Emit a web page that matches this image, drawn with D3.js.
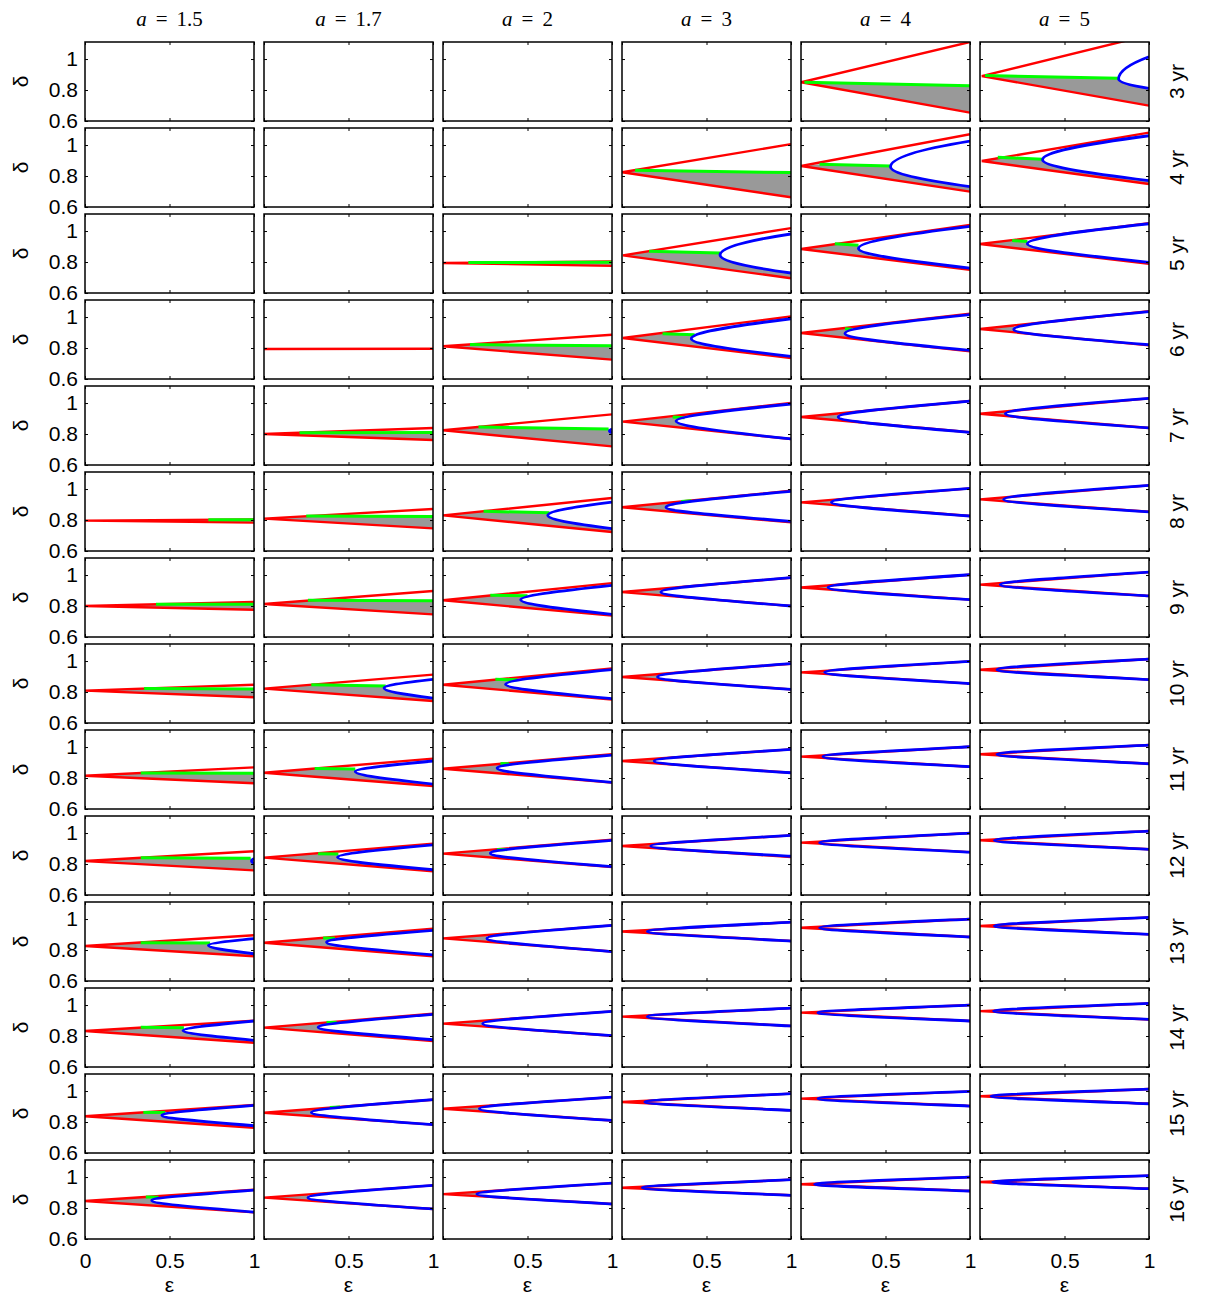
<!DOCTYPE html>
<html lang="en">
<head>
  <meta charset="UTF-8">
  <title>Bifurcation regions</title>
  <script src="https://d3js.org/d3.v7.min.js"></script>
  <style>
    body { margin: 0; background: #fff; }
  </style>
</head>
<body>
<div id="chart"></div>
<script>
  // column / row labels
  var aValues = ["1.5", "1.7", "2", "3", "4", "5"];
  var years = [3, 4, 5, 6, 7, 8, 9, 10, 11, 12, 13, 14, 15, 16];
  var yTicks = [0.6, 0.8, 1];
  var xTicks = [0, 0.5, 1];

  // cusp point [eps, delta] of the two red boundaries (null = empty panel)
  var cusp = [
    [null, null, null, null, [0, 0.85], [0.01, 0.89]],
    [null, null, null, [0, 0.824], [0, 0.865], [0.01, 0.897]],
    [null, null, [0, 0.794], [0.005, 0.843], [0, 0.884], [0, 0.916]],
    [null, [0, 0.794], [0, 0.811], [0.005, 0.865], [0, 0.897], [0, 0.923]],
    [null, [0, 0.8], [0, 0.824], [0.005, 0.88], [0, 0.91], [0, 0.931]],
    [[0, 0.796], [0, 0.809], [0, 0.83], [0, 0.882], [0, 0.914], [0, 0.933]],
    [[0, 0.8], [0, 0.813], [0, 0.837], [0, 0.89], [0, 0.92], [0, 0.938]],
    [[0, 0.809], [0, 0.822], [0, 0.847], [0, 0.897], [0, 0.927], [0, 0.944]],
    [[0, 0.815], [0, 0.834], [0, 0.86], [0, 0.91], [0, 0.938], [0, 0.953]],
    [[0, 0.819], [0, 0.841], [0, 0.867], [0, 0.916], [0, 0.938], [0, 0.953]],
    [[0, 0.826], [0, 0.847], [0, 0.875], [0, 0.92], [0, 0.944], [0, 0.955]],
    [[0, 0.832], [0, 0.854], [0, 0.88], [0, 0.925], [0, 0.951], [0, 0.961]],
    [[0, 0.837], [0, 0.86], [0, 0.886], [0, 0.929], [0, 0.951], [0, 0.966]],
    [[0, 0.845], [0, 0.867], [0, 0.89], [0, 0.931], [0, 0.953], [0, 0.968]]
  ];

  // red boundaries at eps = 1: [upper, lower]
  var redEnd = [
    [null, null, null, null, [1.11, 0.654], [1.155, 0.699]],
    [null, null, null, [1.006, 0.663], [1.07, 0.699], [1.08, 0.748]],
    [null, null, [0.804, 0.775], [1.019, 0.695], [1.04, 0.75], [1.05, 0.789]],
    [null, [0.795, 0.793], [0.886, 0.725], [1.004, 0.735], [1.021, 0.778], [1.037, 0.817]],
    [null, [0.839, 0.761], [0.927, 0.72], [1.0, 0.768], [1.013, 0.811], [1.03, 0.839]],
    [[0.804, 0.783], [0.871, 0.746], [0.942, 0.723], [0.989, 0.785], [1.004, 0.826], [1.024, 0.853]],
    [[0.826, 0.776], [0.897, 0.746], [0.948, 0.738], [0.983, 0.8], [1.002, 0.841], [1.019, 0.865]],
    [[0.847, 0.766], [0.912, 0.742], [0.953, 0.751], [0.983, 0.817], [0.998, 0.854], [1.013, 0.88]],
    [[0.869, 0.766], [0.925, 0.748], [0.953, 0.77], [0.985, 0.834], [1.002, 0.873], [1.013, 0.892]],
    [[0.882, 0.759], [0.931, 0.753], [0.957, 0.781], [0.985, 0.845], [1.0, 0.877], [1.013, 0.895]],
    [[0.895, 0.76], [0.938, 0.76], [0.959, 0.79], [0.98, 0.858], [1.0, 0.884], [1.011, 0.901]],
    [[0.899, 0.757], [0.944, 0.768], [0.959, 0.802], [0.98, 0.865], [1.0, 0.897], [1.011, 0.907]],
    [[0.91, 0.763], [0.944, 0.783], [0.961, 0.81], [0.983, 0.875], [0.998, 0.903], [1.013, 0.918]],
    [[0.918, 0.772], [0.946, 0.794], [0.961, 0.826], [0.983, 0.882], [1.0, 0.91], [1.009, 0.925]]
  ];

  // green segment [eps0, delta0, eps1, delta1]
  var green = [
    [null, null, null, null, [0.02, 0.85, 1, 0.828], [0.03, 0.893, 0.82, 0.876]],
    [null, null, null, [0.077, 0.838, 1, 0.822], [0.11, 0.876, 0.53, 0.864], [0.105, 0.921, 0.37, 0.908]],
    [null, null, [0.15, 0.797, 1, 0.799], [0.16, 0.869, 0.58, 0.858], [0.2, 0.918, 0.34, 0.908], [0.19, 0.939, 0.28, 0.932]],
    [null, null, [0.16, 0.822, 1, 0.815], [0.24, 0.892, 0.43, 0.886], [0.26, 0.925, 0.3, 0.922], null],
    [null, [0.21, 0.808, 1, 0.81], [0.21, 0.845, 0.98, 0.832], [0.3, 0.91, 0.37, 0.905], null, null],
    [[0.73, 0.802, 1, 0.802], [0.25, 0.826, 1, 0.822], [0.24, 0.856, 0.63, 0.847], [0.35, 0.92, 0.41, 0.925], null, null],
    [[0.42, 0.811, 1, 0.811], [0.26, 0.837, 1, 0.834], [0.28, 0.869, 0.5, 0.867], null, null, null],
    [[0.35, 0.822, 1, 0.819], [0.28, 0.847, 0.72, 0.839], [0.31, 0.882, 0.44, 0.879], null, null, null],
    [[0.33, 0.832, 1, 0.83], [0.3, 0.862, 0.54, 0.858], [0.34, 0.893, 0.41, 0.892], null, null, null],
    [[0.33, 0.84, 0.98, 0.838], [0.32, 0.867, 0.44, 0.865], [0.32, 0.893, 0.38, 0.893], null, null, null],
    [[0.33, 0.847, 0.74, 0.845], [0.35, 0.877, 0.42, 0.876], null, null, null, null],
    [[0.33, 0.856, 0.585, 0.853], [0.37, 0.888, 0.43, 0.888], null, null, null, null],
    [[0.345, 0.862, 0.475, 0.862], [0.39, 0.893, 0.45, 0.897], null, null, null, null],
    [[0.36, 0.871, 0.435, 0.87], null, null, null, null, null]
  ];

  // blue curve: [vertex eps, vertex delta, upper delta at eps=1, lower delta at eps=1]
  var blue = [
    [null, null, null, null, null, [0.82, 0.871, 1.015, 0.811]],
    [null, null, null, null, [0.53, 0.86, 1.026, 0.731], [0.37, 0.905, 1.06, 0.77]],
    [null, null, null, [0.58, 0.845, 0.981, 0.729], [0.34, 0.888, 1.03, 0.761], [0.28, 0.918, 1.047, 0.798]],
    [null, null, null, [0.41, 0.86, 0.989, 0.746], [0.26, 0.894, 1.015, 0.785], [0.2, 0.92, 1.035, 0.821]],
    [null, null, [0.985, 0.82, 0.832, 0.808], [0.32, 0.884, 0.994, 0.768], [0.22, 0.91, 1.013, 0.811], [0.15, 0.931, 1.03, 0.839]],
    [null, null, [0.62, 0.83, 0.916, 0.744], [0.26, 0.882, 0.985, 0.791], [0.18, 0.914, 1.004, 0.826], [0.14, 0.933, 1.024, 0.853]],
    [null, null, [0.46, 0.84, 0.933, 0.746], [0.23, 0.89, 0.983, 0.8], [0.16, 0.92, 1.002, 0.841], [0.12, 0.938, 1.019, 0.865]],
    [null, [0.71, 0.826, 0.882, 0.761], [0.37, 0.85, 0.944, 0.757], [0.21, 0.897, 0.983, 0.817], [0.14, 0.927, 0.998, 0.854], [0.1, 0.944, 1.013, 0.88]],
    [null, [0.54, 0.842, 0.91, 0.761], [0.32, 0.864, 0.948, 0.772], [0.19, 0.91, 0.985, 0.834], [0.13, 0.938, 1.002, 0.873], [0.1, 0.953, 1.013, 0.892]],
    [[0.985, 0.82, 0.835, 0.805], [0.435, 0.843, 0.923, 0.763], [0.28, 0.87, 0.953, 0.783], [0.17, 0.916, 0.985, 0.85], [0.11, 0.938, 1.0, 0.877], [0.085, 0.953, 1.013, 0.895]],
    [[0.73, 0.83, 0.873, 0.776], [0.37, 0.85, 0.927, 0.768], [0.26, 0.875, 0.959, 0.79], [0.15, 0.92, 0.98, 0.858], [0.11, 0.944, 1.0, 0.884], [0.085, 0.955, 1.011, 0.901]],
    [[0.58, 0.835, 0.897, 0.772], [0.32, 0.856, 0.94, 0.776], [0.235, 0.88, 0.959, 0.802], [0.15, 0.925, 0.98, 0.865], [0.1, 0.951, 1.0, 0.897], [0.08, 0.961, 1.011, 0.907]],
    [[0.455, 0.843, 0.908, 0.776], [0.28, 0.862, 0.944, 0.783], [0.215, 0.886, 0.961, 0.81], [0.135, 0.929, 0.983, 0.875], [0.1, 0.951, 0.998, 0.903], [0.065, 0.966, 1.013, 0.918]],
    [[0.395, 0.849, 0.916, 0.774], [0.26, 0.867, 0.946, 0.794], [0.2, 0.89, 0.961, 0.826], [0.12, 0.931, 0.983, 0.882], [0.08, 0.953, 1.0, 0.91], [0.075, 0.968, 1.009, 0.925]]
  ];

  // layout
  var W = 1206, H = 1297;
  var left0 = 85, colStep = 179, pw = 169;
  var top0 = 42, rowStep = 86, ph = 79;
  var sans = "'Liberation Sans', Arial, Helvetica, sans-serif";
  var serif = "'Liberation Serif', 'DejaVu Serif', serif";

  var svg = d3.select("#chart")
    .append("svg")
    .attr("width", W)
    .attr("height", H);

  var x = d3.scaleLinear().domain([0, 1]).range([0, pw]);
  var y = d3.scaleLinear().domain([0.6, 1.11]).range([ph, 0]);
  var fmt = d3.format("~g");

  function P(e, d) { return [x(e), y(d)]; }

  // control points for one blue branch: flat branches look like a V, steep ones like a parabola
  function ctrl(V, E) {
    var dx = Math.max(E[0] - V[0], 0.5), dy = E[1] - V[1];
    var s = Math.min(1, Math.abs(dy) / dx / 0.3);
    var a1 = 0.2 + s * (1 / 3 - 0.2);
    var b2 = 0.3 + s * (1 / 3 - 0.3);
    var a2 = 0.4 + s * (2 / 3 - 0.4);
    return [[V[0], V[1] + a1 * dy], [V[0] + b2 * dx, V[1] + a2 * dy]];
  }
  function branch(p, V, E) {
    var k = ctrl(V, E);
    p.bezierCurveTo(k[0][0], k[0][1], k[1][0], k[1][1], E[0], E[1]);
  }
  function branchBack(p, V, E) {
    var k = ctrl(V, E);
    p.bezierCurveTo(k[1][0], k[1][1], k[0][0], k[0][1], V[0], V[1]);
  }

  years.forEach(function(yr, r) {
    aValues.forEach(function(a, c) {
      var g = svg.append("g")
        .attr("transform", "translate(" + (left0 + c * colStep) + "," + (top0 + r * rowStep) + ")");

      var clipId = "clip-" + r + "-" + c;
      g.append("clipPath").attr("id", clipId)
        .append("rect").attr("width", pw).attr("height", ph);

      var cp = cusp[r][c];
      if (cp) {
        var body = g.append("g").attr("clip-path", "url(#" + clipId + ")");
        var e0 = cp[0], d0 = cp[1];
        var dU = redEnd[r][c][0], dL = redEnd[r][c][1];
        var gr = green[r][c], bl = blue[r][c];
        var upper = d3.scaleLinear().domain([e0, 1]).range([d0, dU]);

        // grey region
        var p = d3.path();
        p.moveTo.apply(p, P(e0, d0));
        if (gr) {
          p.lineTo.apply(p, P(gr[0], gr[1]));
          p.lineTo.apply(p, P(gr[2], gr[3]));
        }
        if (bl) {
          if (!gr) p.lineTo.apply(p, P(bl[0], upper(bl[0])));
          var V = P(bl[0], bl[1]);
          p.lineTo(V[0], V[1]);
          branch(p, V, P(1, bl[3]));
        } else if (!gr) {
          p.lineTo.apply(p, P(1, dU));
        }
        p.lineTo.apply(p, P(1, dL));
        p.closePath();
        body.append("path").attr("d", p.toString()).attr("fill", "#999999");

        // red boundaries
        var red = d3.path();
        red.moveTo.apply(red, P(e0, d0)); red.lineTo.apply(red, P(1, dU));
        red.moveTo.apply(red, P(e0, d0)); red.lineTo.apply(red, P(1, dL));
        body.append("path").attr("d", red.toString())
          .attr("fill", "none").attr("stroke", "#ff0000").attr("stroke-width", 2.4);

        if (gr) {
          body.append("line")
            .attr("x1", x(gr[0])).attr("y1", y(gr[1]))
            .attr("x2", x(gr[2])).attr("y2", y(gr[3]))
            .attr("stroke", "#00ff00").attr("stroke-width", 3);
        }

        if (bl) {
          var Vb = P(bl[0], bl[1]), Eu = P(1, bl[2]), El = P(1, bl[3]);
          var bp = d3.path();
          bp.moveTo(Eu[0], Eu[1]);
          branchBack(bp, Vb, Eu);
          branch(bp, Vb, El);
          body.append("path").attr("d", bp.toString())
            .attr("fill", "none").attr("stroke", "#0000ff").attr("stroke-width", 2.8);
        }
      }

      // axes (ticks pointing inward)
      var yl = g.append("g").call(d3.axisLeft(y).tickValues(yTicks).tickSize(-3).tickPadding(7)
        .tickFormat(c === 0 ? fmt : ""));
      var yr2 = g.append("g").attr("transform", "translate(" + pw + ",0)")
        .call(d3.axisRight(y).tickValues(yTicks).tickSize(-3).tickFormat(""));
      var xb = g.append("g").attr("transform", "translate(0," + ph + ")")
        .call(d3.axisBottom(x).tickValues(xTicks).tickSize(-3).tickPadding(14)
          .tickFormat(function(d) {
            if (r !== years.length - 1) return "";
            if (c > 0 && d === 0) return "";
            return fmt(d);
          }));
      var xt = g.append("g")
        .call(d3.axisTop(x).tickValues(xTicks).tickSize(-3).tickFormat(""));
      [yl, yr2, xb, xt].forEach(function(ax) {
        ax.select(".domain").remove();
        ax.attr("font-size", 21).attr("font-family", sans);
        ax.selectAll("text").attr("fill", "#000");
      });

      g.append("rect")
        .attr("width", pw).attr("height", ph)
        .attr("fill", "none").attr("stroke", "#000").attr("stroke-width", 1.5);

      if (c === 0) {
        g.append("text")
          .attr("transform", "translate(-57," + (ph / 2) + ") rotate(-90)")
          .attr("text-anchor", "middle")
          .attr("font-family", sans).attr("font-size", 21)
          .text("δ");
      }
      if (c === aValues.length - 1) {
        g.append("text")
          .attr("transform", "translate(" + (pw + 35) + "," + (ph / 2) + ") rotate(-90)")
          .attr("text-anchor", "middle")
          .attr("font-family", sans).attr("font-size", 21)
          .text(yr + " yr");
      }
      if (r === 0) {
        var t = g.append("text")
          .attr("x", pw / 2).attr("y", -16)
          .attr("text-anchor", "middle")
          .attr("font-family", serif).attr("font-size", 21);
        t.append("tspan").attr("font-style", "italic").text("a");
        t.append("tspan").attr("dx", 9).text("=");
        t.append("tspan").attr("dx", 9).text(a);
      }
      if (r === years.length - 1) {
        g.append("text")
          .attr("x", pw / 2).attr("y", ph + 53)
          .attr("text-anchor", "middle")
          .attr("font-family", sans).attr("font-size", 21)
          .text("ε");
      }
    });
  });
</script>
</body>
</html>
